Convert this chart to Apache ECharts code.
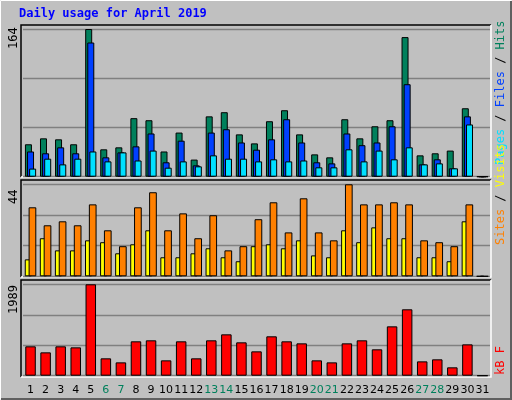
<!DOCTYPE html>
<html><head><meta charset="utf-8">
<script src="https://cdn.jsdelivr.net/npm/echarts@6/dist/echarts.min.js"></script>
<style>html,body{margin:0;padding:0;background:#c0c0c0}#c{width:512px;height:400px}</style>
</head><body><div id="c"></div>
<script>
const days = Array.from({length:31},(_,i)=>String(i+1));
const weekend = [6,7,13,14,20,21,27,28];
const hits  = [36,42.6,41.5,36,164,30.4,32.6,65,62.7,28,49,19,67,71.6,47,37,61.6,73.8,47,24.8,21.5,63.8,42.6,56,62.7,155,23.7,26,29,76,0];
const files = [28,26,32.6,26,149,21.5,27,33.7,48,16,40,12.6,49,52.7,38,30,41.5,63.8,38,16,14.8,48,35,38,56,102.7,13.7,19.3,9.3,67,0];
const pages = [9,20,13.7,20,28,17,27,18,29,10,17,11.5,23.7,20,20,17,19.3,17,18,10.4,10.4,30.4,17,29,19.3,32.6,13.7,14.8,9.3,58,0];
const visits= [8.1,18.2,12.4,12.4,17.2,16.3,11,15.3,22,9.1,9.1,11,13.4,9.1,7.2,14.4,15.3,13.4,17.2,10,9.1,22,16.3,23.4,18.2,18.2,9.1,9.1,7.2,26.3,0];
const sites = [33,24.4,26.3,24.4,34.4,22,14.4,33,40.2,22,30.1,18.2,29.2,12.4,14.4,27.3,35.4,21,37.3,21,17.2,44,34.4,34.4,35.4,34.4,17.2,16.3,14.4,34.4,0];
const kbytes= [639,508,639,617,1989,378,290,748,770,334,748,378,770,900,726,530,857,748,704,334,290,704,770,574,1074,1445,312,356,182,682,0];
const maxLabels = ['164','44','1989'];
const maxVals = [164,44,1989];

const chart = echarts.init(document.getElementById('c'));
const grids = [
  {left:23,right:22,top:29,height:147.7},
  {left:23,right:22,top:184.3,height:92},
  {left:23,right:22,top:284.3,height:91.4}
];
const xAxes = grids.map((g,i)=>({type:'category',gridIndex:i,data:days,
  axisLine:{show:false},axisTick:{show:false},
  axisLabel:{show:i===2,margin:9,fontFamily:'DejaVu Sans',fontSize:11,interval:0,
    color:(v)=>weekend.includes(+v)?'#00805c':'#000'}}));
const yAxes = grids.map((g,i)=>({type:'value',gridIndex:i,min:0,max:maxVals[i],interval:maxVals[i]/3,
  axisLabel:{show:false},axisLine:{show:false},axisTick:{show:false},
  splitLine:{show:true,lineStyle:{color:'#808080',width:1.3}}}));
const bs = {borderColor:'#000',borderWidth:1};
function bar(d,color,axis,w,gap,z){return {type:'bar',data:d,xAxisIndex:axis,yAxisIndex:axis,barWidth:w,barGap:gap,
  itemStyle:Object.assign({color},bs),z:z,silent:true,animation:false};}
const series = [
  bar(hits,'#00805c',0,7,'-70%',2), bar(files,'#0040ff',0,7,'-70%',3), bar(pages,'#00e0ff',0,7,'-70%',4),
  bar(visits,'#ffff00',1,7,'-45%',2), bar(sites,'#ff8000',1,7.7,'-45%',3),
  bar(kbytes,'#ff0000',2,10.5,'0%',2)
];
const panels=[[25,177],[180,277],[280,377]];
const graphic=[
  {type:'rect',shape:{x:0.5,y:0.5,width:511,height:399},style:{fill:null,stroke:'#ffffff',lineWidth:1},z:-10},
  {type:'polyline',shape:{points:[[511,1],[511,399],[1,399]]},style:{stroke:'#606060',lineWidth:2,fill:null},z:-10},
  {type:'text',left:19,top:8,style:{text:'Daily usage for April 2019',fill:'#0000ff',font:'bold 12px "DejaVu Sans Mono"'}}
];
panels.forEach(([t,b],i)=>{
  graphic.push({type:'polyline',shape:{points:[[21,b],[21,t],[491,t]]},style:{stroke:'#000',lineWidth:1.5,fill:null},z:-5});
  graphic.push({type:'polyline',shape:{points:[[491,t],[491,b],[21,b]]},style:{stroke:'#ffffff',lineWidth:1.5,fill:null},z:-5});
  graphic.push({type:'text',x:8,y:t+(i===2?34:24),rotation:Math.PI/2,style:{text:maxLabels[i],fill:'#000',font:'12px "DejaVu Sans Mono"',textAlign:'left',textVerticalAlign:'top'}});
});
function legend(y,parts){
  return {type:'text',x:495,y:y,rotation:Math.PI/2,style:{
    rich:Object.fromEntries(parts.map((p,i)=>['p'+i,{fill:p[1],font:'12px "DejaVu Sans Mono"'}])),
    text:parts.map((p,i)=>'{p'+i+'|'+p[0]+'}').join(''),textVerticalAlign:'top',textAlign:'left'}};
}
graphic.push(legend(165,[['Pages','#00e0ff'],[' / ','#000'],['Files','#0040ff'],[' / ','#000'],['Hits','#00805c']]));
graphic.push(legend(245,[['Sites','#ff8000'],[' / ','#000'],['Visits','#ffff00']]));
graphic.push(legend(375,[['kB F','#ff0000']]));
chart.setOption({backgroundColor:'#c0c0c0',animation:false,grid:grids,xAxis:xAxes,yAxis:yAxes,series,graphic});
</script></body></html>
